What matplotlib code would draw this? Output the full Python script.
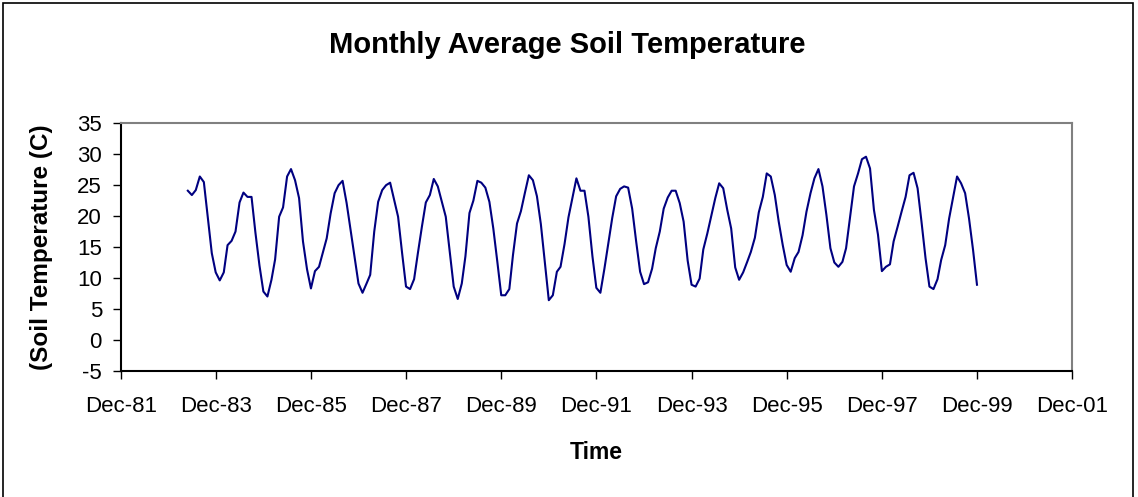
import matplotlib
matplotlib.use("Agg")
import matplotlib.pyplot as plt
import pandas as pd
from matplotlib.patches import Rectangle

# monthly average soil temperature (C), Apr 1983 - Nov 1999
t1983 = [24.1, 23.4, 24.2, 26.4, 25.5, 19.9, 14.0, 10.9, 9.6]
t1984 = [10.9, 15.3, 16.0, 17.5, 22.2, 23.8, 23.1, 23.1, 17.3, 12.0, 7.8, 7.0]
t1985 = [9.7, 13.0, 19.9, 21.4, 26.4, 27.6, 25.8, 22.9, 15.9, 11.4, 8.3, 11.1]
t1986 = [11.8, 14.0, 16.4, 20.4, 23.7, 25.0, 25.7, 22.1, 17.8, 13.4, 9.1, 7.6]
t1987 = [9.1, 10.5, 17.5, 22.3, 24.2, 25.0, 25.4, 22.6, 19.9, 14.0, 8.6, 8.2]
t1988 = [9.8, 14.0, 18.3, 22.2, 23.4, 26.0, 24.8, 22.3, 19.9, 14.2, 8.6, 6.6]
t1989 = [9.1, 13.5, 20.5, 22.5, 25.7, 25.4, 24.6, 22.3, 18.0, 12.6, 7.2, 7.2]
t1990 = [8.2, 13.7, 18.8, 20.8, 23.8, 26.6, 25.8, 23.2, 18.7, 12.4, 6.4, 7.2]
t1991 = [11.0, 11.8, 15.5, 19.8, 23.0, 26.1, 24.1, 24.1, 19.9, 13.5, 8.4, 7.6]
t1992 = [11.5, 15.5, 19.7, 23.2, 24.4, 24.8, 24.6, 21.2, 16.0, 11.0, 9.0, 9.3]
t1993 = [11.5, 14.8, 17.5, 21.2, 23.0, 24.1, 24.1, 22.1, 19.1, 12.8, 8.9, 8.6]
t1994 = [9.9, 14.6, 17.2, 20.0, 22.9, 25.3, 24.5, 21.0, 18.0, 11.7, 9.7, 10.9]
t1995 = [12.6, 14.2, 16.5, 20.6, 23.1, 26.9, 26.4, 23.4, 19.1, 15.3, 12.1, 11.0]
t1996 = [13.2, 14.2, 16.9, 20.7, 23.7, 26.1, 27.6, 24.8, 20.2, 14.8, 12.5, 11.8]
t1997 = [12.6, 14.8, 19.9, 24.8, 26.9, 29.2, 29.6, 27.7, 21.0, 17.0, 11.1, 11.8]
t1998 = [12.2, 15.9, 18.3, 20.7, 23.1, 26.6, 27.0, 24.5, 19.1, 13.2, 8.6, 8.2]
t1999 = [9.8, 12.9, 15.3, 19.6, 23.1, 26.4, 25.3, 23.7, 19.6, 14.5, 8.9]

temps = (t1983 + t1984 + t1985 + t1986 + t1987 + t1988 + t1989 + t1990 +
         t1991 + t1992 + t1993 + t1994 + t1995 + t1996 + t1997 + t1998 +
         t1999)
dates = pd.date_range("1983-04-30", periods=len(temps),
                      freq=pd.offsets.MonthEnd())

tick_dates = pd.to_datetime(["1981-12-01", "1983-12-01", "1985-12-01",
                             "1987-12-01", "1989-12-01", "1991-12-01",
                             "1993-12-01", "1995-12-01", "1997-12-01",
                             "1999-12-01", "2001-12-01"])
tick_labels = ["Dec-81", "Dec-83", "Dec-85", "Dec-87", "Dec-89", "Dec-91",
               "Dec-93", "Dec-95", "Dec-97", "Dec-99", "Dec-01"]
y_ticks = [-5, 0, 5, 10, 15, 20, 25, 30, 35]


def main():
    plt.rcParams['font.family'] = ['Liberation Sans', 'DejaVu Sans']
    plt.rcParams['axes.unicode_minus'] = False

    fig = plt.figure(figsize=(11.38, 4.97), dpi=100)
    ax = fig.add_axes([0.1061, 0.2541, 0.8362, 0.4978])

    ax.plot(dates, temps, color="#000080", linewidth=1.5)

    ax.set_xlim(tick_dates[0], tick_dates[-1])
    ax.set_xticks(tick_dates)
    ax.set_xticklabels(tick_labels)
    ax.set_ylim(-5, 35)
    ax.set_yticks(y_ticks)

    ax.tick_params(axis="both", direction="out", length=5.5, width=1,
                   labelsize=16, colors="black")
    ax.tick_params(axis="x", pad=13)
    ax.tick_params(axis="y", pad=8)

    for side in ["left", "bottom"]:
        ax.spines[side].set_color("black")
        ax.spines[side].set_linewidth(1.5)
    for side in ["top", "right"]:
        ax.spines[side].set_color("#808080")
        ax.spines[side].set_linewidth(1.5)

    ax.set_xlabel("Time", fontsize=16.5, fontweight="bold")
    ax.xaxis.set_label_coords(0.5, -0.285)
    ax.set_ylabel("(Soil Temperature (C)", fontsize=17.5, fontweight="bold")
    ax.yaxis.set_label_coords(-0.0708, 0.5)

    fig.text(0.4987, 0.8934, "Monthly Average Soil Temperature",
             fontsize=21, fontweight="bold", ha="center", va="baseline")

    # chart border
    fig.add_artist(Rectangle((0.0024, -0.02), 0.9935, 1.013,
                             transform=fig.transFigure, fill=False,
                             edgecolor="black", linewidth=1.2))

    fig.savefig("out.png", dpi=100)
    return 0


if __name__ == "__main__":
    main()
